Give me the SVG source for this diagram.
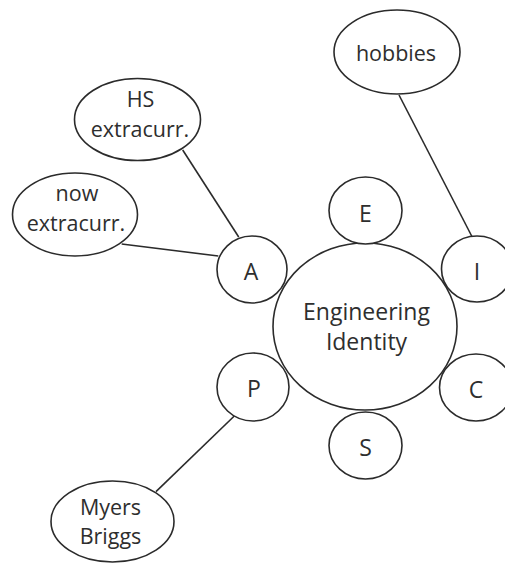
<svg xmlns="http://www.w3.org/2000/svg" width="505" height="563" viewBox="0 0 505 563">
  <style>
    .shape { fill: #ffffff; stroke: #2b2b2b; stroke-width: 1.6; }
    .link { stroke: #2b2b2b; stroke-width: 1.6; fill: none; }
    text { font-family: "Open Sans", "Liberation Sans", sans-serif; font-size: 21.5px; fill: #2e2e2e; text-anchor: middle; }
    .big { font-size: 23px; }
  </style>
  <rect width="505" height="563" fill="#ffffff"/>

  <!-- connectors -->
  <g id="connectors">
    <line class="link" x1="399" y1="95" x2="472.7" y2="238"/>
    <line class="link" x1="182.7" y1="150" x2="238.7" y2="237"/>
    <line class="link" x1="121.7" y1="244" x2="218.3" y2="256"/>
    <line class="link" x1="234.3" y1="416" x2="156" y2="491.7"/>
  </g>

  <!-- central concept -->
  <g id="engineering-identity">
    <ellipse class="shape" cx="365" cy="326.5" rx="92" ry="83.5"/>
    <text class="big" x="366.5" y="320">Engineering</text>
    <text class="big" x="366.5" y="350">Identity</text>
  </g>

  <!-- satellite nodes -->
  <g id="node-E">
    <ellipse class="shape" cx="365.5" cy="210.5" rx="36.5" ry="33.5"/>
    <text class="big" x="365.5" y="221.5">E</text>
  </g>
  <g id="node-A">
    <ellipse class="shape" cx="252" cy="269.5" rx="35" ry="33.5"/>
    <text class="big" x="251" y="280">A</text>
  </g>
  <g id="node-I">
    <ellipse class="shape" cx="477" cy="269" rx="35.5" ry="33"/>
    <text class="big" x="477" y="279.5">I</text>
  </g>
  <g id="node-P">
    <ellipse class="shape" cx="253" cy="387" rx="36" ry="34"/>
    <text class="big" x="254" y="397">P</text>
  </g>
  <g id="node-S">
    <ellipse class="shape" cx="365.5" cy="445.5" rx="36.5" ry="33.5"/>
    <text class="big" x="365.5" y="455.5">S</text>
  </g>
  <g id="node-C">
    <ellipse class="shape" cx="476" cy="387.5" rx="36.5" ry="33.5"/>
    <text class="big" x="476" y="397.5">C</text>
  </g>

  <!-- outer detail nodes -->
  <g id="node-hobbies">
    <ellipse class="shape" cx="397" cy="52" rx="63" ry="42"/>
    <text x="396" y="61">hobbies</text>
  </g>
  <g id="node-hs-extracurr">
    <ellipse class="shape" cx="137.5" cy="119.5" rx="63" ry="41"/>
    <text x="140.5" y="107">HS</text>
    <text x="140" y="136.5">extracurr.</text>
  </g>
  <g id="node-now-extracurr">
    <ellipse class="shape" cx="75" cy="214.5" rx="62.5" ry="41.5"/>
    <text x="77" y="201">now</text>
    <text x="76" y="230.5">extracurr.</text>
  </g>
  <g id="node-myers-briggs">
    <ellipse class="shape" cx="112.5" cy="521.5" rx="61.5" ry="40.5"/>
    <text x="110.5" y="515">Myers</text>
    <text x="110.5" y="544">Briggs</text>
  </g>
</svg>
